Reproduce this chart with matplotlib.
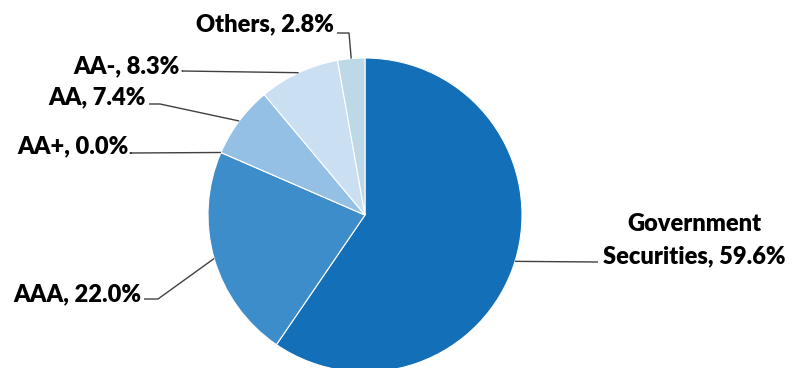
import numpy as np
import matplotlib
matplotlib.use("Agg")
import matplotlib.pyplot as plt

# Portfolio composition by rating
categories = ["Government\nSecurities", "AAA", "AA+", "AA", "AA-", "Others"]
shares = [59.6, 22.0, 0.0, 7.4, 8.3, 2.8]
colors = ["#136fb8", "#3e8dcb", "#6aa9dc", "#93c0e4", "#cadff1", "#bdd8e6"]

W, H = 793, 368
CX, CY, R = 365, 215, 157

# label text anchor (pixels, y down), alignment, elbow point
label_layout = {
    "Government\nSecurities": ((694, 240), "center", "center", (598, 262)),
    "AAA": ((141, 294), "right", "center", (158, 299)),
    "AA+": ((129, 146), "right", "center", (130, 153)),
    "AA": ((146, 97), "right", "center", (160, 104)),
    "AA-": ((180, 66), "right", "center", (182, 71)),
    "Others": ((334, 24), "right", "center", (349, 33)),
}

fig = plt.figure(figsize=(W / 100, H / 100), dpi=100)
ax = fig.add_axes([0, 0, 1, 1])
ax.set_xlim(0, W)
ax.set_ylim(0, H)
ax.set_aspect("equal")
ax.axis("off")


def fy(y):
    return H - y


wedges, _ = ax.pie(shares, colors=colors, startangle=90, counterclock=False,
                   center=(CX, fy(CY)), radius=R,
                   wedgeprops=dict(edgecolor="white", linewidth=0.8))
ax.set_xlim(0, W)
ax.set_ylim(0, H)

font = dict(family="Lato", fontweight="heavy", fontsize=17, color="black")

for w, name, val in zip(wedges, categories, shares):
    mid = np.deg2rad((w.theta1 + w.theta2) / 2)
    px = CX + R * np.cos(mid)
    py = fy(CY) + R * np.sin(mid)
    (tx, ty), ha, va, (ex, ey) = label_layout[name]
    txt = f"{name}, {val:.1f}%"
    ax.text(tx, fy(ty), txt, ha=ha, va=va, multialignment="center",
            linespacing=1.55, **font)
    if name.startswith("Government"):
        xs = [px, ex]
        ys = [py, fy(ey)]
    else:
        xs = [tx + 3, ex, px]
        ys = [fy(ey), fy(ey), py]
    ax.plot(xs, ys, color="#404040", linewidth=1.0, solid_capstyle="butt")

fig.savefig("out.png", dpi=100, facecolor="white")
